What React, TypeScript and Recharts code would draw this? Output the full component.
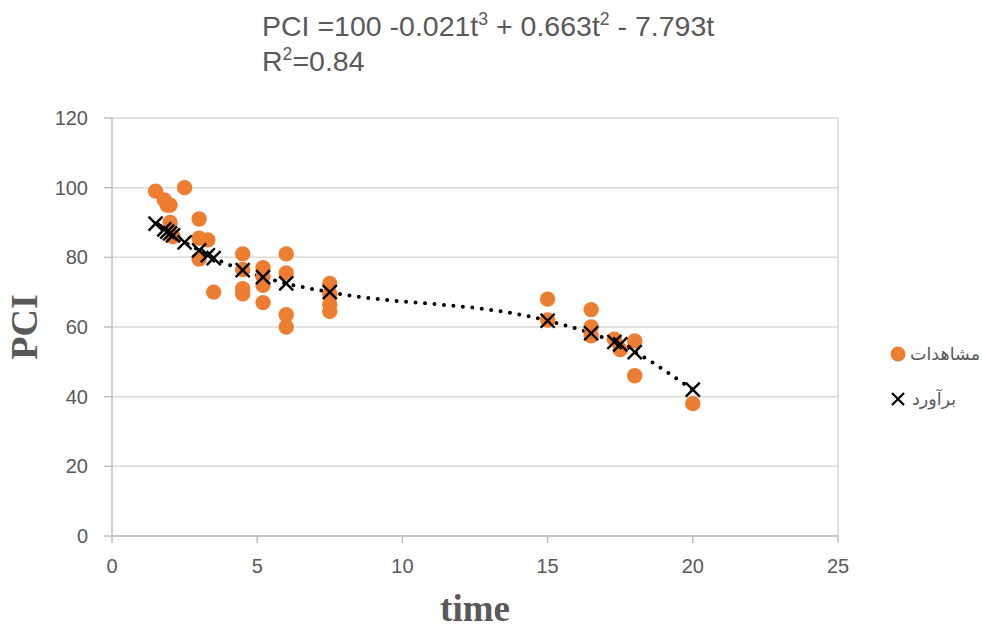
import React from 'react';
import {
  ComposedChart,
  Scatter,
  Line,
  XAxis,
  YAxis,
  CartesianGrid,
  ReferenceLine,
} from 'recharts';

// Observed PCI values (مشاهدات)
const obsTime = [1.5, 1.8, 1.9, 2.0, 2.0, 2.1, 2.5, 3.0, 3.0, 3.0, 3.3, 3.5, 4.5, 4.5, 4.5, 4.5, 5.2, 5.2, 5.2, 5.2, 6.0, 6.0, 6.0, 6.0, 7.5, 7.5, 7.5, 7.5, 15, 15, 16.5, 16.5, 16.5, 17.3, 17.5, 18, 18, 20];
const obsPCI = [99, 96.5, 95, 95, 90, 86, 100, 91, 85.5, 79.5, 85, 70, 81, 76.5, 71, 69.5, 77, 74.5, 72, 67, 81, 75.5, 63.5, 60, 72.5, 69.5, 66.5, 64.5, 68, 62, 65, 60, 57.5, 56.5, 53.5, 56, 46, 38];

// Estimated PCI values (برآورد)
const estTime = [1.5, 1.8, 1.9, 2.0, 2.1, 2.5, 3.0, 3.3, 3.5, 4.5, 5.2, 6.0, 7.5, 15, 16.5, 17.3, 17.5, 18, 20];
const estPCI = [89.7, 88, 87.4, 86.9, 86.3, 84.3, 82, 80.6, 79.8, 76.3, 74.3, 72.5, 70, 61.8, 58.2, 55.7, 55, 52.8, 42];

const xTicks = [0, 5, 10, 15, 20, 25];
const yTicks = [0, 20, 40, 60, 80, 100, 120];

const obsLabel = 'مشاهدات';
const estLabel = 'برآورد';

const obsData = obsTime.map((t, i) => ({ t, v: obsPCI[i] }));
const estData = estTime.map((t, i) => ({ t, v: estPCI[i] }));

const ORANGE = '#ED7D31';
const GRID = '#d9d9d9';
const AXIS = '#bfbfbf';
const TEXT = '#595959';

const Dot = (props: any) => {
  const { cx, cy } = props;
  if (cx == null || cy == null) return null;
  return <circle cx={cx} cy={cy} r={7.7} fill={ORANGE} />;
};

const Cross = (props: any) => {
  const { cx, cy } = props;
  if (cx == null || cy == null) return null;
  const s = 7;
  return (
    <g stroke="#000" strokeWidth={2.4}>
      <line x1={cx - s} y1={cy - s} x2={cx + s} y2={cy + s} />
      <line x1={cx - s} y1={cy + s} x2={cx + s} y2={cy - s} />
    </g>
  );
};

const supStyle: React.CSSProperties = {
  fontSize: '0.62em',
  verticalAlign: '0.62em',
  lineHeight: 0,
};

export default function App() {
  return (
    <div
      style={{
        position: 'absolute',
        left: 0,
        top: 0,
        width: 983,
        height: 628,
        background: '#fff',
        overflow: 'hidden',
      }}
    >
      <ComposedChart
        width={983}
        height={628}
        margin={{ top: 118, right: 145, bottom: 0, left: 0 }}
      >
        <CartesianGrid vertical={false} stroke={GRID} strokeWidth={1.5} />
        <ReferenceLine x={25} stroke={GRID} strokeWidth={1.5} ifOverflow="extendDomain" />
        <XAxis
          dataKey="t"
          type="number"
          domain={[0, 25]}
          ticks={xTicks}
          height={92}
          allowDuplicatedCategory={false}
          stroke={AXIS}
          strokeWidth={1.5}
          tickSize={7}
          tickMargin={16}
          tick={{ fill: TEXT, fontSize: 20, fontFamily: 'Liberation Sans, Arial, sans-serif' }}
          label={{
            value: 'time',
            position: 'insideBottom',
            offset: 7,
            style: {
              fill: TEXT,
              fontSize: 37,
              fontWeight: 'bold',
              fontFamily: 'Liberation Serif, Times New Roman, serif',
            },
          }}
        />
        <YAxis
          dataKey="v"
          type="number"
          domain={[0, 120]}
          ticks={yTicks}
          width={112}
          stroke={AXIS}
          strokeWidth={1.5}
          tickSize={8}
          tickMargin={16}
          tick={{ fill: TEXT, fontSize: 20, fontFamily: 'Liberation Sans, Arial, sans-serif' }}
          label={{
            value: 'PCI',
            angle: -90,
            position: 'insideLeft',
            offset: 24,
            style: {
              textAnchor: 'middle',
              fill: TEXT,
              fontSize: 38,
              fontWeight: 'bold',
              fontFamily: 'Liberation Serif, Times New Roman, serif',
            },
          }}
        />
        <Scatter
          name={obsLabel}
          data={obsData}
          dataKey="v"
          shape={<Dot />}
          isAnimationActive={false}
        />
        <Line
          data={estData}
          dataKey="v"
          type="monotone"
          stroke="#000"
          strokeWidth={4}
          strokeDasharray="0 9.5"
          strokeLinecap="round"
          dot={false}
          activeDot={false}
          legendType="none"
          isAnimationActive={false}
        />
        <Scatter
          name={estLabel}
          data={estData}
          dataKey="v"
          shape={<Cross />}
          isAnimationActive={false}
        />
      </ComposedChart>

      {/* Trendline equation */}
      <div
        style={{
          position: 'absolute',
          left: 262,
          top: 9,
          color: TEXT,
          fontFamily: 'Liberation Sans, Arial, sans-serif',
          fontSize: 28.5,
          lineHeight: '35px',
          whiteSpace: 'nowrap',
        }}
      >
        <div>
          PCI =100 -0.021t<span style={supStyle}>3</span> + 0.663t<span style={supStyle}>2</span> - 7.793t
        </div>
        <div>
          R<span style={supStyle}>2</span>=0.84
        </div>
      </div>

      {/* Legend */}
      <div
        style={{
          position: 'absolute',
          left: 889,
          top: 340,
          color: TEXT,
          fontFamily: 'DejaVu Sans, sans-serif',
          fontSize: 17.5,
          whiteSpace: 'nowrap',
        }}
      >
        <div style={{ display: 'flex', alignItems: 'center', height: 28 }}>
          <svg width={18} height={18} style={{ marginRight: 3 }}>
            <circle cx={9} cy={9} r={7.5} fill={ORANGE} />
          </svg>
          <span dir="rtl">{obsLabel}</span>
        </div>
        <div style={{ display: 'flex', alignItems: 'center', height: 28, marginTop: 17 }}>
          <svg width={18} height={18} style={{ marginRight: 5 }}>
            <g stroke="#000" strokeWidth={2.2}>
              <line x1={3} y1={3} x2={15} y2={15} />
              <line x1={3} y1={15} x2={15} y2={3} />
            </g>
          </svg>
          <span dir="rtl">{estLabel}</span>
        </div>
      </div>
    </div>
  );
}
